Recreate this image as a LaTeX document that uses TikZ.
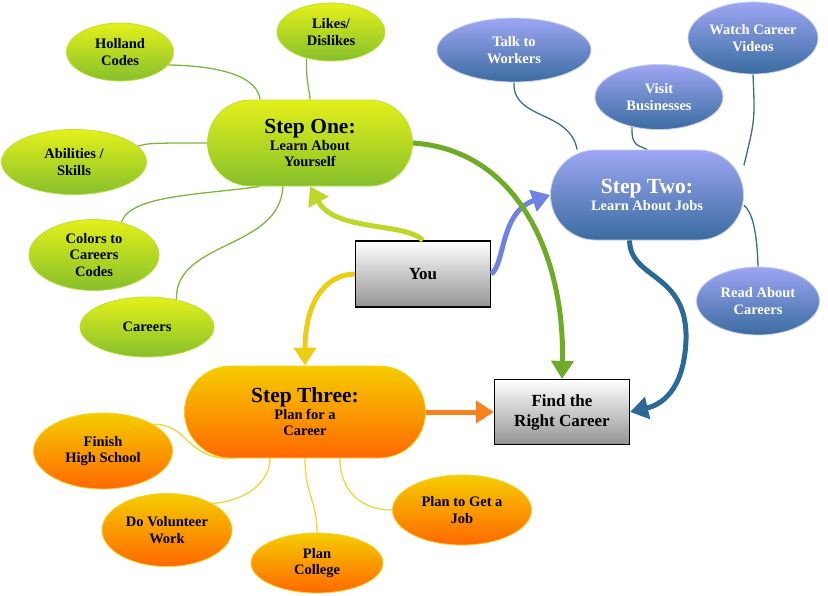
\documentclass[tikz,border=0pt]{standalone}
\usepackage{fontspec}
\setmainfont{Liberation Serif}
\usetikzlibrary{shapes.geometric,arrows.meta,backgrounds}
\definecolor{gtop}{RGB}{228,240,26}
\definecolor{gbot}{RGB}{134,192,44}
\definecolor{gline}{RGB}{190,222,60}
\definecolor{btop}{RGB}{158,166,244}
\definecolor{bbot}{RGB}{58,108,160}
\definecolor{bline}{RGB}{200,205,240}
\definecolor{otop}{RGB}{245,205,0}
\definecolor{obot}{RGB}{255,104,0}
\definecolor{oline}{RGB}{245,210,40}
\definecolor{thg}{RGB}{130,180,60}
\definecolor{thb}{RGB}{60,110,140}
\definecolor{tho}{RGB}{240,212,60}
\definecolor{aone}{RGB}{190,215,40}
\definecolor{athree}{RGB}{235,205,20}
\definecolor{atwo}{RGB}{110,130,230}
\definecolor{agreen}{RGB}{110,172,40}
\definecolor{adblue}{RGB}{45,105,150}
\definecolor{aorange}{RGB}{245,130,30}
\begin{document}
\begin{tikzpicture}[x=1pt,y=-1pt,
  lab/.style={font=\bfseries\fontsize{14.5}{16.5}\selectfont, align=center},
  gell/.style={ellipse, draw=gline, line width=0.8pt, top color=gtop, bottom color=gbot, inner sep=0pt, lab},
  bell/.style={ellipse, draw=bline, line width=0.8pt, top color=btop, bottom color=bbot, inner sep=0pt, text=white, lab},
  oell/.style={ellipse, draw=oline, line width=0.8pt, top color=otop, bottom color=obot, inner sep=0pt, lab},
  pill/.style={rectangle, line width=0.8pt, inner sep=0pt, lab},
  graybox/.style={rectangle, draw=black, line width=1.2pt, top color=white, bottom color=black!42, inner sep=0pt, align=center, font=\bfseries\fontsize{17}{20}\selectfont},
  thin/.style={line width=1.3pt},
  thick/.style={line width=5pt, -{Triangle[width=22pt,length=18pt]}}]
\useasboundingbox (0,0) rectangle (828,595);

% main nodes
\node[pill, draw=gline, top color=gtop, bottom color=gbot, rounded corners=43pt, minimum width=205pt, minimum height=86pt] (one) at (310,143)
  {{\fontsize{21.5}{24}\selectfont Step One:}\\Learn About\\Yourself};
\node[pill, draw=bline, top color=btop, bottom color=bbot, text=white, rounded corners=45pt, minimum width=193pt, minimum height=90pt] (two) at (647,195)
  {{\fontsize{21.5}{24}\selectfont Step Two:}\\Learn About Jobs};
\node[pill, draw=oline, top color=otop, bottom color=obot, rounded corners=46pt, minimum width=241pt, minimum height=92pt] (three) at (305,412)
  {{\fontsize{21.5}{24}\selectfont Step Three:}\\Plan for a\\Career};
\node[graybox, minimum width=135pt, minimum height=66pt] (you) at (423,274) {You};
\node[graybox, minimum width=135pt, minimum height=65pt] (find) at (562,412) {Find the\\Right Career};

% green leaves
\node[gell, minimum width=108pt, minimum height=58pt] (likes) at (331,32) {Likes/\\Dislikes};
\node[gell, minimum width=107pt, minimum height=58pt] (holland) at (120,52) {Holland\\Codes};
\node[gell, minimum width=145pt, minimum height=65pt] (abil) at (74,162) {Abilities /\\Skills};
\node[gell, minimum width=130pt, minimum height=71pt] (col) at (94,255) {Colors to\\Careers\\Codes};
\node[gell, minimum width=134pt, minimum height=60pt] (car) at (147,327) {Careers};

% blue leaves
\node[bell, minimum width=154pt, minimum height=64pt] (talk) at (514,50) {Talk to\\Workers};
\node[bell, minimum width=128pt, minimum height=65pt] (visit) at (659,97) {Visit\\Businesses};
\node[bell, minimum width=130pt, minimum height=72pt] (watch) at (753,38) {Watch Career\\Videos};
\node[bell, minimum width=123pt, minimum height=68pt] (read) at (758,301) {Read About\\Careers};

% orange leaves
\node[oell, minimum width=139pt, minimum height=76pt] (fin) at (103,451) {Finish\\High School};
\node[oell, minimum width=130pt, minimum height=73pt] (vol) at (167,530) {Do Volunteer\\Work};
\node[oell, minimum width=132pt, minimum height=60pt] (college) at (317,563) {Plan\\College};
\node[oell, minimum width=139pt, minimum height=70pt] (job) at (462,510) {Plan to Get a\\Job};

\begin{pgfonlayer}{background}
% green thin
\draw[thin, thg] (holland.-15) .. controls (230,66) and (258,80) .. (one.139);
\draw[thin, thg] (likes.-133) .. controls (306,85) and (310,90) .. (one.north);
\draw[thin, thg] (abil.14) .. controls (150,143) .. (one.west);
\draw[thin, thg] (col.50) .. controls (130,195) and (200,195) .. (one.-139);
\draw[thin, thg] (car.43) .. controls (175,240) and (280,250) .. (one.-122);
% blue thin
\draw[thin, thb] (talk.south) .. controls (512,120) and (570,110) .. (two.147);
\draw[thin, thb] (visit.-132) .. controls (631,148) and (640,145) .. (two.north);
\draw[thin, thb] (watch.south) .. controls (755,120) .. (two.17);
\draw[thin, thb] (read.north) .. controls (757,230) and (752,212) .. (two.-6);
% orange thin
\draw[thin, tho] (fin.28) .. controls (190,424) and (185,460) .. (three.-147);
\draw[thin, tho] (vol.30) .. controls (250,500) and (270,480) .. (three.-127);
\draw[thin, tho] (college.north) .. controls (317,500) and (305,495) .. (three.south);
\draw[thin, tho] (job.west) .. controls (360,510) and (340,490) .. (three.-53);
\end{pgfonlayer}

% thick arrows
\draw[thick, aone] (you.north) .. controls (405,222) and (335,232) .. (one.south);
\draw[thick, athree] (you.west) .. controls (320,275) and (305,310) .. (three.north);
\draw[thick, atwo] (you.east) .. controls (505,265) and (500,212) .. (two.west);
\draw[thick, agreen] (one.east) .. controls (520,150) and (565,260) .. (find.north);
\coordinate (bend) at (686,340);
\draw[thick, adblue] (two.-111) .. controls (630,280) and (688,272) .. (bend) .. controls (684,392) and (660,405) .. (find.east);
\draw[thick, aorange] (three.east) -- (find.west);
\end{tikzpicture}
\end{document}
